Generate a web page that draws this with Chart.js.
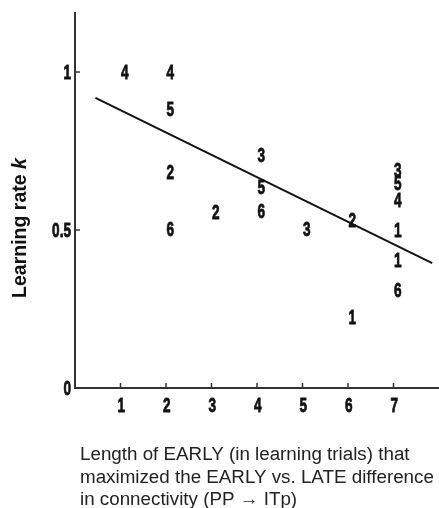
<!DOCTYPE html>
<html>
<head>
<meta charset="utf-8">
<script src="https://cdn.jsdelivr.net/npm/chart.js@4.4.0/dist/chart.umd.min.js"></script>
<style>
  html, body { margin: 0; padding: 0; background: #fff; }
  canvas { display: block; }
</style>
</head>
<body>
<canvas id="chart" width="439" height="508"></canvas>
<script>
// subject points: x = length of EARLY, y = learning rate k, label = subject number
const pointX = [1, 2, 2, 2, 2, 3, 4, 4, 4, 5, 6, 6, 7, 7, 7, 7, 7, 7];
const pointY = [1.0, 1.0, 0.883, 0.684, 0.503, 0.557, 0.737, 0.636, 0.56, 0.503, 0.532, 0.225, 0.69, 0.649, 0.595, 0.5, 0.405, 0.31];
const pointLabels = ['4', '4', '5', '2', '6', '2', '3', '5', '6', '3', '2', '1', '3', '5', '4', '1', '1', '6'];

// regression line end points
const fitX = [0.45, 7.85];
const fitY = [0.918, 0.395];

const xTicks = [1, 2, 3, 4, 5, 6, 7];
const yTicks = [0, 0.5, 1];
const yTickLabels = ['0', '0.5', '1'];

const xTitle = [
    'Length of EARLY (in learning trials) that',
    'maximized the EARLY vs. LATE difference',
    'in connectivity (PP \u2192 ITp)'
];

const narrow = (ctx, text, x, y, align) => {
    ctx.save();
    ctx.font = 'bold 20px "Liberation Sans", Arial, sans-serif';
    ctx.translate(x, y);
    ctx.scale(0.68, 1);
    ctx.textAlign = align;
    ctx.textBaseline = 'alphabetic';
    ctx.lineWidth = 0.8;
    ctx.strokeStyle = ctx.fillStyle;
    ctx.strokeText(text, 0, 0);
    ctx.fillText(text, 0, 0);
    ctx.restore();
};

const drawing = {
    id: 'drawing',
    afterDatasetsDraw(chart) {
        const ctx = chart.ctx;
        const xs = chart.scales.x, ys = chart.scales.y;
        const area = chart.chartArea;
        ctx.save();
        ctx.fillStyle = '#111';
        // numbers at each point
        pointLabels.forEach((t, i) => {
            const px = xs.getPixelForValue(pointX[i]);
            const py = ys.getPixelForValue(pointY[i]);
            narrow(ctx, t, px + 0.5, py + 7, 'left');
        });

        // axes
        ctx.strokeStyle = '#333';
        ctx.lineWidth = 2;
        ctx.beginPath();
        ctx.moveTo(area.left, area.top);
        ctx.lineTo(area.left, area.bottom);
        ctx.lineTo(area.right, area.bottom);
        ctx.stroke();

        ctx.lineWidth = 1.5;
        xTicks.forEach(v => {
            const px = xs.getPixelForValue(v);
            ctx.strokeStyle = '#333';
            ctx.beginPath();
            ctx.moveTo(px, area.bottom);
            ctx.lineTo(px, area.bottom - 5);
            ctx.stroke();
            narrow(ctx, String(v), px - 3, area.bottom + 24, 'left');
        });
        yTicks.forEach((v, i) => {
            const py = ys.getPixelForValue(v);
            ctx.strokeStyle = '#333';
            ctx.lineWidth = 1.5;
            ctx.beginPath();
            ctx.moveTo(area.left, py);
            ctx.lineTo(area.left + 5, py);
            ctx.stroke();
            narrow(ctx, yTickLabels[i], area.left - 4, py + 7, 'right');
        });

        // x title
        ctx.font = '18.8px "Liberation Sans", Arial, sans-serif';
        ctx.textAlign = 'left';
        ctx.fillStyle = '#222';
        xTitle.forEach((line, i) => {
            ctx.fillText(line, 80, 460 + i * 22.5);
        });

        // y title, "k" in italics
        ctx.save();
        ctx.translate(26, 228);
        ctx.rotate(-Math.PI / 2);
        const a = 'Learning rate ', b = 'k';
        ctx.font = 'bold 19.5px "Liberation Sans", Arial, sans-serif';
        const wa = ctx.measureText(a).width;
        ctx.font = 'bold italic 19.5px "Liberation Sans", Arial, sans-serif';
        const wb = ctx.measureText(b).width;
        const start = -(wa + wb) / 2;
        ctx.fillStyle = '#111';
        ctx.font = 'bold 19.5px "Liberation Sans", Arial, sans-serif';
        ctx.fillText(a, start, 0);
        ctx.font = 'bold italic 19.5px "Liberation Sans", Arial, sans-serif';
        ctx.fillText(b, start + wa, 0);
        ctx.restore();

        ctx.restore();
    }
};

const ctx = document.querySelector('#chart').getContext('2d');
const chart = new Chart(ctx, {
    type: 'scatter',
    data: {
        datasets: [{
            label: 'subjects',
            data: pointX.map((x, i) => ({ x: x, y: pointY[i] })),
            pointRadius: 0,
            pointHoverRadius: 0
        }, {
            label: 'fit',
            type: 'line',
            data: fitX.map((x, i) => ({ x: x, y: fitY[i] })),
            borderColor: '#111',
            borderWidth: 2,
            pointRadius: 0,
            fill: false
        }]
    },
    options: {
        responsive: false,
        animation: false,
        layout: {
            padding: { left: 75, right: 0, top: 12, bottom: 120 }
        },
        scales: {
            x: { type: 'linear', min: 0, max: 8, display: false },
            y: { type: 'linear', min: 0, max: 1.19, display: false }
        },
        plugins: {
            legend: { display: false },
            tooltip: { enabled: false }
        }
    },
    plugins: [drawing]
});
</script>
</body>
</html>
